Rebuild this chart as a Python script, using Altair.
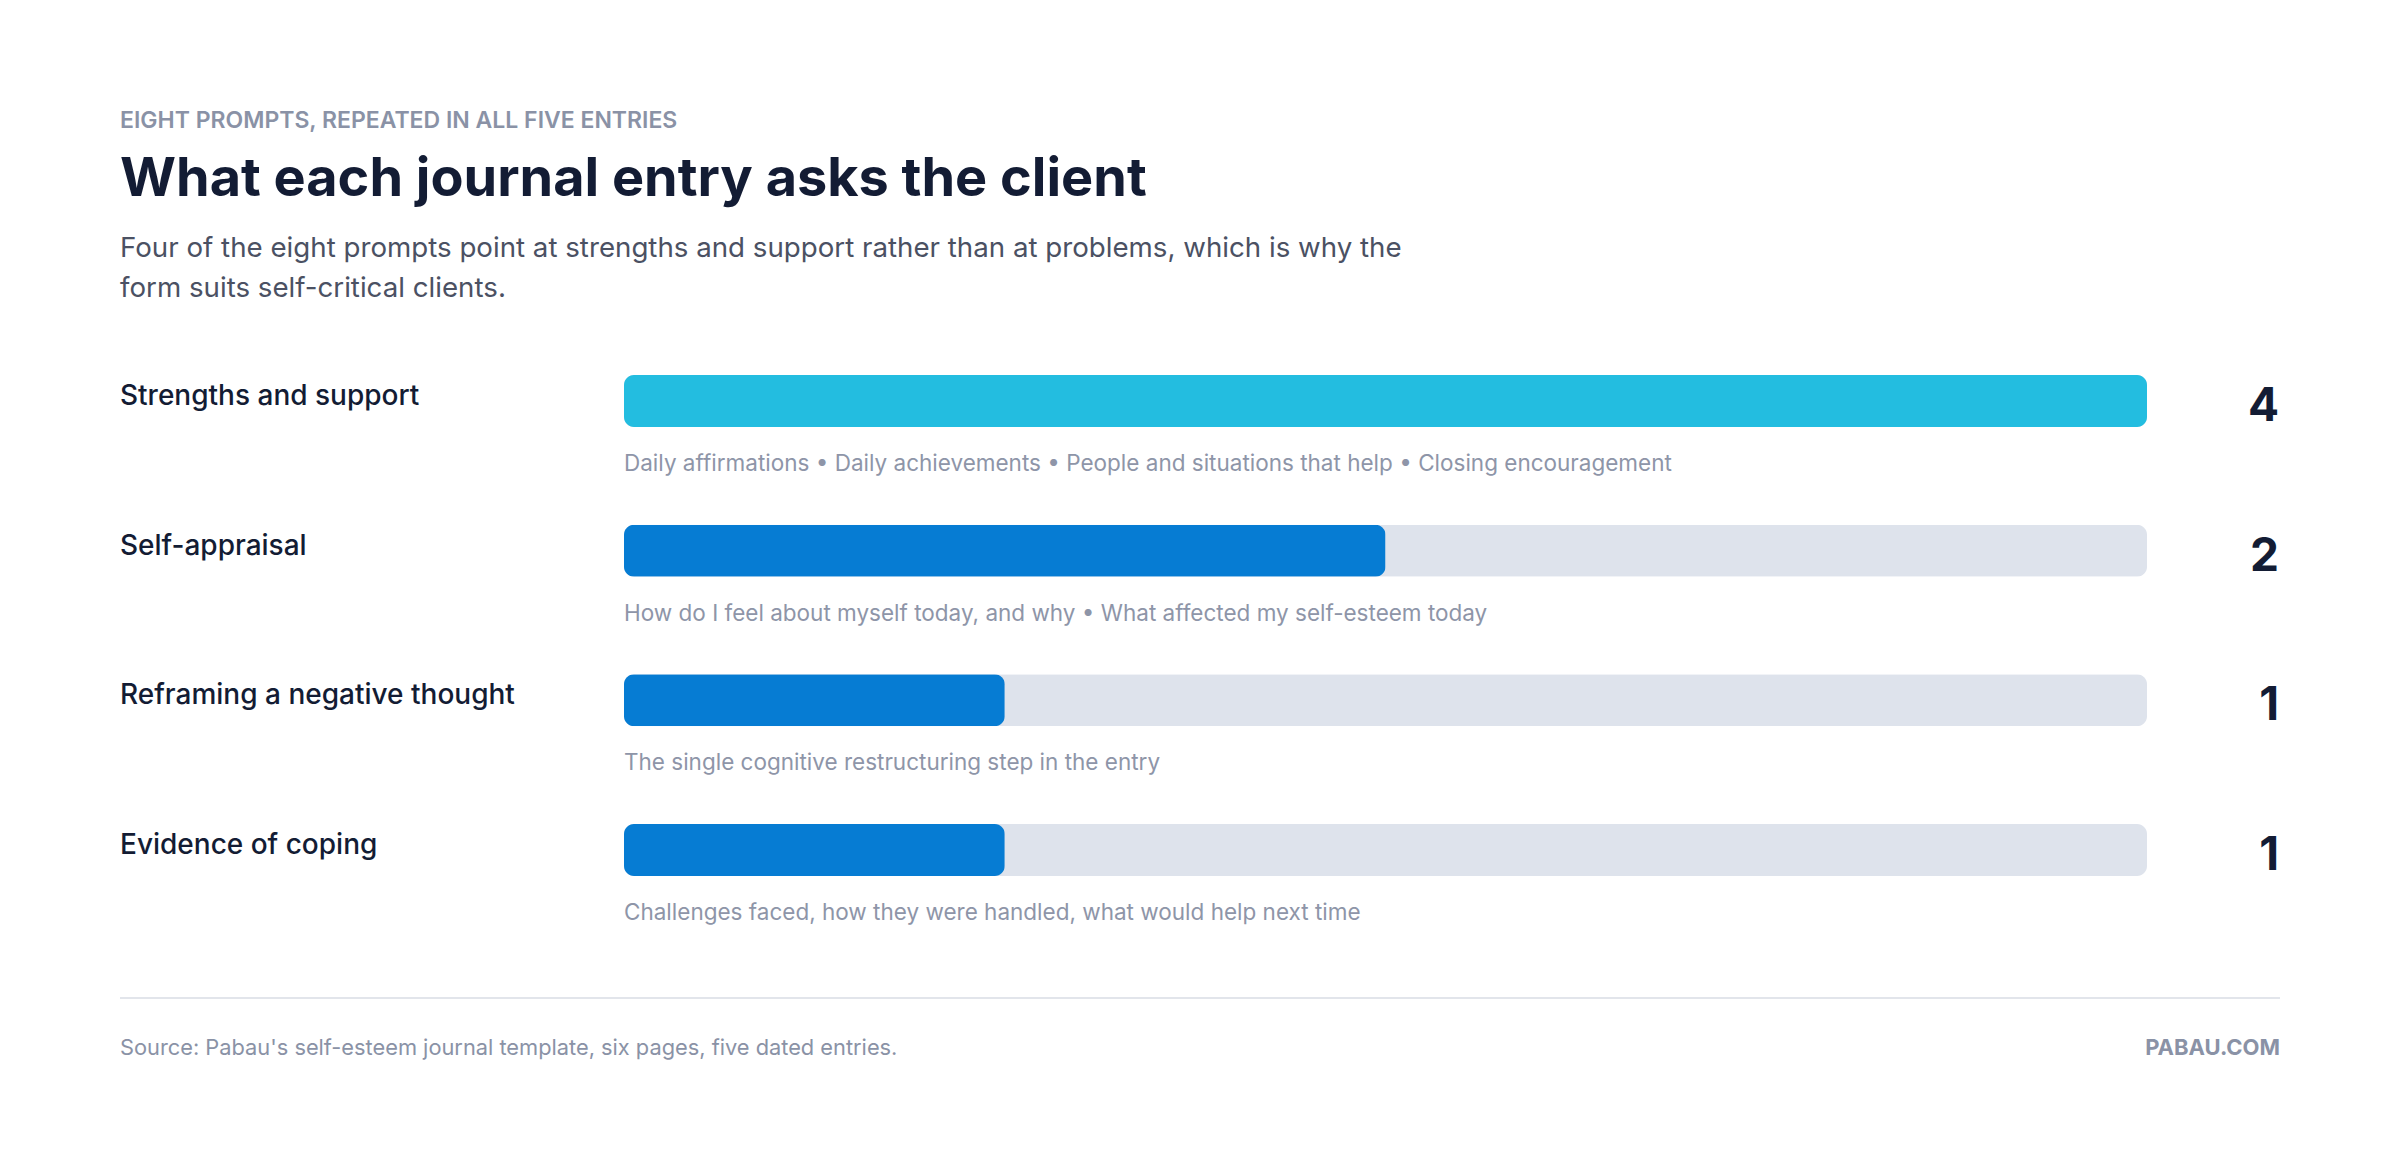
import altair as alt
import pandas as pd

# rows of the chart
categories = ["Strengths and support", "Self-appraisal",
              "Reframing a negative thought", "Evidence of coping"]
counts = [4, 2, 1, 1]
details = [
    "Daily affirmations \u2022 Daily achievements \u2022 People and situations that help \u2022 Closing encouragement",
    "How do I feel about myself today, and why \u2022 What affected my self-esteem today",
    "The single cognitive restructuring step in the entry",
    "Challenges faced, how they were handled, what would help next time",
]
bar_colors = ["#23BDE0", "#067CD3", "#067CD3", "#067CD3"]
total = 4

eyebrow = "EIGHT PROMPTS, REPEATED IN ALL FIVE ENTRIES"
title = "What each journal entry asks the client"
subtitle = ["Four of the eight prompts point at strengths and support rather than at problems, which is why the",
            "form suits self-critical clients."]
source = "Source: Pabau's self-esteem journal template, six pages, five dated entries."
brand = "PABAU.COM"

FONT = "Inter"
DARK = "#131C34"
GREY = "#8A92A6"

df = pd.DataFrame({
    "cat": categories,
    "n": counts,
    "total": [total] * len(categories),
    "detail": details,
    "color": bar_colors,
})

xs = alt.Scale(domain=[0, total], range=[616, 2139])
ys = alt.Scale(type="point", domain=categories, range=[393, 842], padding=0)

base = alt.Chart(df)
y = alt.Y("cat:N", scale=ys, axis=None)

track = base.mark_bar(size=52, cornerRadius=10, color="#DEE3EC").encode(
    x=alt.X("total:Q", scale=xs, axis=None), y=y)
bars = base.mark_bar(size=52, cornerRadius=10).encode(
    x=alt.X("n:Q", scale=xs, axis=None), y=y, color=alt.Color("color:N", scale=None))

labels = base.mark_text(align="left", baseline="alphabetic", dy=4, font=FONT,
                        fontSize=28, fontWeight=500, color=DARK).encode(
    x=alt.value(112), y=y, text="cat:N")
values = base.mark_text(align="right", baseline="alphabetic", dy=20, font=FONT,
                        fontSize=46, fontWeight=700, color=DARK).encode(
    x=alt.value(2271), y=y, text="n:Q")
descs = base.mark_text(align="left", baseline="alphabetic", dy=70, font=FONT,
                       fontSize=22.5, color="#8E95A8").encode(
    x=alt.value(616), y=y, text="detail:N")

one = pd.DataFrame({"k": [0]})
hdr = alt.Chart(one)
eyebrow_t = hdr.mark_text(align="left", baseline="alphabetic", font=FONT, fontSize=23,
                          fontWeight=600, color=GREY, text=eyebrow).encode(
    x=alt.value(112), y=alt.value(120))
title_t = hdr.mark_text(align="left", baseline="alphabetic", font=FONT, fontSize=54,
                        fontWeight=700, color=DARK, text=title).encode(
    x=alt.value(112), y=alt.value(188))
sub_t = hdr.mark_text(align="left", baseline="alphabetic", font=FONT, fontSize=27.7,
                      lineHeight=40, color="#4B5163", text=subtitle).encode(
    x=alt.value(112), y=alt.value(249))
divider = hdr.mark_rule(color="#E2E5EB", strokeWidth=2).encode(
    x=alt.value(112), x2=alt.value(2272), y=alt.value(990))
source_t = hdr.mark_text(align="left", baseline="alphabetic", font=FONT, fontSize=21.8,
                         color=GREY, text=source).encode(
    x=alt.value(112), y=alt.value(1047))
brand_t = hdr.mark_text(align="right", baseline="alphabetic", font=FONT, fontSize=22,
                        fontWeight=700, color=GREY, text=brand).encode(
    x=alt.value(2272), y=alt.value(1047))

chart = alt.layer(
    track, bars, labels, values, descs,
    eyebrow_t, title_t, sub_t, divider, source_t, brand_t,
).properties(
    width=2384, height=1156, padding=0, background="white",
    autosize=alt.AutoSizeParams(type="none"),
).configure_view(strokeWidth=0)

chart.save("out.html", embed_options={"renderer": "svg", "actions": False})
